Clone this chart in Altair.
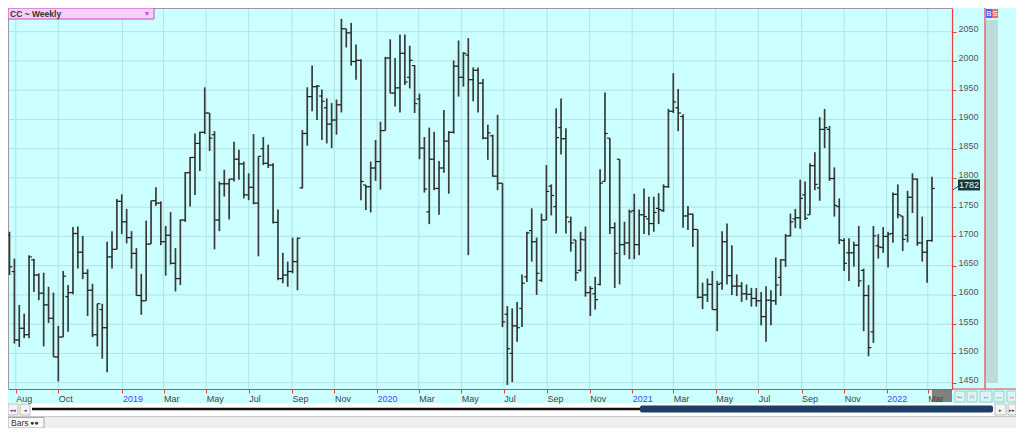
import altair as alt
import pandas as pd

# ---- data (weekly OHLC, CC ~ Weekly) ----
first_week = "2018-07-23"
n_weeks = 190
opens = [
    1702, 1640, 1523, 1543, 1532, 1660, 1634, 1603, 1583, 1560,
    1494, 1528, 1597, 1604, 1705, 1673, 1637, 1608, 1532, 1575,
    1544, 1665, 1678, 1760, 1725, 1698, 1671, 1599, 1590, 1687,
    1761, 1757, 1691, 1702, 1654, 1628, 1728, 1809, 1835, 1859,
    1878, 1911, 1874, 1728, 1790, 1790, 1798, 1832, 1824, 1771,
    1784, 1757, 1850, 1825, 1822, 1724, 1628, 1634, 1640, 1657,
    1783, 1876, 1939, 1956, 1940, 1920, 1892, 1899, 1925, 2055,
    2048, 1999, 2001, 1788, 1785, 1817, 1828, 1881, 2005, 1945,
    1954, 2013, 1972, 1992, 1935, 1851, 1742, 1832, 1782, 1817,
    1863, 1878, 1991, 1972, 2010, 1968, 1984, 1962, 1868, 1872,
    1803, 1791, 1567, 1500, 1547, 1577, 1631, 1710, 1691, 1625,
    1728, 1786, 1751, 1886, 1867, 1725, 1694, 1642, 1694, 1604,
    1602, 1618, 1794, 1868, 1715, 1832, 1686, 1689, 1744, 1686,
    1737, 1730, 1722, 1748, 1744, 1785, 1914, 1920, 1905, 1735,
    1738, 1712, 1596, 1600, 1618, 1575, 1620, 1691, 1633, 1615,
    1615, 1602, 1601, 1594, 1590, 1563, 1591, 1590, 1630, 1660,
    1701, 1730, 1732, 1771, 1737, 1821, 1783, 1883, 1883, 1799,
    1751, 1693, 1672, 1672, 1685, 1642, 1599, 1537, 1684, 1681,
    1700, 1705, 1772, 1735, 1702, 1767, 1798, 1689, 1673, 1693,
]
highs = [
    1708, 1662, 1583, 1568, 1668, 1662, 1637, 1638, 1614, 1604,
    1547, 1641, 1617, 1716, 1717, 1701, 1644, 1619, 1585, 1585,
    1691, 1709, 1764, 1772, 1747, 1709, 1680, 1636, 1727, 1761,
    1784, 1760, 1718, 1742, 1680, 1729, 1810, 1836, 1876, 1879,
    1955, 1911, 1880, 1794, 1814, 1798, 1862, 1848, 1828, 1808,
    1875, 1837, 1870, 1857, 1825, 1746, 1672, 1657, 1698, 1698,
    1882, 1955, 1992, 1959, 1951, 1936, 1928, 1934, 2072, 2055,
    2065, 2028, 2003, 1788, 1828, 1865, 1896, 2007, 2037, 2005,
    2045, 2045, 2026, 1993, 1944, 1870, 1886, 1879, 1829, 1916,
    1880, 2001, 2035, 2015, 2039, 1989, 1989, 1969, 1891, 1874,
    1908, 1791, 1581, 1577, 1588, 1635, 1708, 1748, 1698, 1739,
    1822, 1789, 1919, 1936, 1885, 1734, 1694, 1708, 1717, 1615,
    1631, 1815, 1946, 1868, 1724, 1832, 1725, 1746, 1773, 1746,
    1782, 1768, 1768, 1774, 1789, 1918, 1979, 1952, 1909, 1752,
    1739, 1712, 1621, 1628, 1641, 1624, 1709, 1722, 1685, 1635,
    1622, 1618, 1612, 1612, 1605, 1615, 1608, 1664, 1661, 1704,
    1739, 1747, 1797, 1794, 1825, 1844, 1904, 1918, 1889, 1818,
    1765, 1697, 1697, 1691, 1718, 1645, 1617, 1718, 1704, 1716,
    1708, 1775, 1789, 1735, 1778, 1808, 1799, 1734, 1694, 1802,
]
lows = [
    1634, 1517, 1511, 1526, 1526, 1605, 1591, 1512, 1552, 1494,
    1452, 1528, 1537, 1601, 1645, 1627, 1564, 1528, 1512, 1491,
    1468, 1645, 1678, 1704, 1688, 1645, 1599, 1566, 1590, 1687,
    1752, 1685, 1633, 1652, 1606, 1617, 1725, 1751, 1771, 1812,
    1875, 1846, 1678, 1709, 1768, 1729, 1794, 1797, 1765, 1762,
    1755, 1666, 1822, 1817, 1722, 1625, 1620, 1614, 1637, 1608,
    1782, 1855, 1914, 1899, 1865, 1859, 1851, 1874, 1912, 2023,
    1992, 1968, 1762, 1745, 1741, 1795, 1780, 1881, 1945, 1922,
    1912, 1959, 1953, 1911, 1832, 1775, 1721, 1779, 1737, 1809,
    1773, 1876, 1939, 1956, 1668, 1931, 1912, 1866, 1831, 1802,
    1779, 1545, 1446, 1451, 1520, 1545, 1622, 1657, 1600, 1622,
    1728, 1736, 1705, 1840, 1705, 1674, 1624, 1640, 1597, 1564,
    1575, 1616, 1794, 1704, 1612, 1618, 1668, 1661, 1661, 1668,
    1704, 1702, 1708, 1721, 1742, 1783, 1911, 1880, 1715, 1711,
    1682, 1594, 1576, 1588, 1575, 1538, 1609, 1618, 1600, 1598,
    1588, 1591, 1580, 1580, 1548, 1520, 1548, 1583, 1598, 1648,
    1700, 1714, 1713, 1728, 1737, 1779, 1761, 1851, 1795, 1734,
    1687, 1641, 1624, 1648, 1614, 1538, 1495, 1518, 1662, 1672,
    1647, 1689, 1731, 1675, 1690, 1740, 1684, 1657, 1621, 1691,
]
closes = [
    1648, 1523, 1543, 1532, 1665, 1634, 1603, 1583, 1560, 1494,
    1528, 1632, 1604, 1705, 1673, 1637, 1608, 1532, 1585, 1544,
    1665, 1678, 1760, 1725, 1698, 1671, 1599, 1590, 1687, 1761,
    1757, 1691, 1702, 1654, 1628, 1728, 1809, 1835, 1859, 1878,
    1911, 1868, 1728, 1790, 1790, 1798, 1832, 1824, 1771, 1784,
    1757, 1837, 1825, 1822, 1724, 1628, 1634, 1640, 1657, 1697,
    1876, 1939, 1956, 1957, 1931, 1892, 1899, 1925, 2055, 2048,
    1999, 2001, 1794, 1785, 1817, 1828, 1881, 2005, 1945, 1954,
    2013, 1964, 2001, 1927, 1851, 1781, 1832, 1782, 1817, 1863,
    1878, 1991, 1972, 2013, 1968, 1984, 1962, 1868, 1877, 1803,
    1791, 1554, 1508, 1547, 1544, 1620, 1706, 1691, 1637, 1728,
    1777, 1770, 1869, 1867, 1733, 1689, 1638, 1695, 1604, 1611,
    1592, 1791, 1876, 1715, 1671, 1686, 1689, 1742, 1686, 1737,
    1734, 1722, 1741, 1746, 1785, 1914, 1930, 1911, 1735, 1738,
    1712, 1596, 1600, 1618, 1575, 1618, 1691, 1633, 1615, 1615,
    1602, 1601, 1594, 1590, 1563, 1591, 1590, 1617, 1660, 1701,
    1725, 1732, 1765, 1731, 1821, 1789, 1883, 1886, 1799, 1753,
    1694, 1654, 1672, 1685, 1624, 1599, 1510, 1701, 1682, 1700,
    1704, 1772, 1737, 1695, 1767, 1798, 1689, 1673, 1693, 1782,
]
last_price = [1782]
y_ticks = [1450, 1500, 1550, 1600, 1650, 1700, 1750, 1800, 1850, 1900, 1950, 2000, 2050]
x_ticks = [
    "2018-08-01", "2018-10-01",
    "2019-01-01", "2019-03-01", "2019-05-01", "2019-07-01", "2019-09-01", "2019-11-01",
    "2020-01-01", "2020-03-01", "2020-05-01", "2020-07-01", "2020-09-01", "2020-11-01",
    "2021-01-01", "2021-03-01", "2021-05-01", "2021-07-01", "2021-09-01", "2021-11-01",
    "2022-01-01", "2022-03-01",
]

df = pd.DataFrame({
    "week": pd.date_range(first_week, periods=n_weeks, freq="7D"),
    "open": opens, "high": highs, "low": lows, "close": closes,
})
lp = pd.DataFrame({"v": last_price})
xt = pd.DataFrame({"t": pd.to_datetime(x_ticks)})
yt = pd.DataFrame({"p": y_ticks})
one = pd.DataFrame({"k": [0]})

# ---- styles ----
RED = "#e8413c"
GRID = "#b0e4e4"
BAR = "#3a3a3a"
FONT = "Liberation Sans"

xscale = alt.Scale(domain=[alt.DateTime(year=2018, month=7, date=20, hours=20),
                           alt.DateTime(year=2022, month=4, date=4, hours=17)])
yscale = alt.Scale(domain=[1439.2, 2090.5], zero=False, nice=False)

xaxis = alt.Axis(
    values=[alt.DateTime(year=int(s[:4]), month=int(s[5:7]), date=1) for s in x_ticks],
    labelExpr="month(datum.value)==0 ? timeFormat(datum.value, '%Y') : timeFormat(datum.value, '%b')",
    labelAlign="left", labelBaseline="top", labelPadding=1,
    labelFont=FONT, labelFontSize=9,
    labelColor={"condition": {"test": "month(datum.value)==0", "value": "#4646ff"}, "value": "#444444"},
    labelOverlap=False, labelFlush=False,
    tickSize=4, tickColor=RED, domainColor=RED, domainWidth=1.2,
    grid=False, title=None, zindex=1,
)
yaxis = alt.Axis(
    orient="right", values=y_ticks, format="d", tickSize=4, tickColor=RED,
    domainColor=RED, domainWidth=1.2, labelFont=FONT, labelFontSize=9,
    labelColor="#555555", labelPadding=2, labelBaseline="alphabetic",
    grid=False, title=None, zindex=1,
)

X = alt.X("week:T", scale=xscale, axis=xaxis)


def rect(x1, x2, y1, y2, fill, stroke=None, sw=1, **kw):
    props = dict(fill=fill, **kw)
    if stroke:
        props.update(stroke=stroke, strokeWidth=sw)
    return alt.Chart(one).mark_rect(**props).encode(
        x=alt.value(x1), x2=alt.value(x2), y=alt.value(y1), y2=alt.value(y2))


def line(x1, x2, y1, y2, color, w=1):
    return alt.Chart(one).mark_rule(color=color, strokeWidth=w).encode(
        x=alt.value(x1), x2=alt.value(x2), y=alt.value(y1), y2=alt.value(y2))


def text(x, y, s, size, color, align="left", **kw):
    return alt.Chart(one).mark_text(text=s, fontSize=size, color=color, align=align,
                                    baseline="middle", font=FONT, **kw).encode(
        x=alt.value(x), y=alt.value(y))


# ---- grid (behind everything) ----
xgrid = alt.Chart(xt).mark_rule(color=GRID, strokeWidth=1).encode(
    x=alt.X("t:T", scale=xscale, axis=xaxis))
ygrid = alt.Chart(yt).mark_rule(color=GRID, strokeWidth=1).encode(
    y=alt.Y("p:Q", scale=yscale, axis=yaxis))

# ---- OHLC ----
hl = alt.Chart(df).mark_rule(color=BAR, strokeWidth=1.7).encode(
    x=X, y=alt.Y("low:Q", scale=yscale, axis=yaxis), y2="high:Q")
op = alt.Chart(df).mark_rule(color="#222222", strokeWidth=1.2, xOffset=-2.8).encode(
    x=X, x2="week:T", y=alt.Y("open:Q", scale=yscale, axis=yaxis))
cl = alt.Chart(df).mark_rule(color="#222222", strokeWidth=1.2, x2Offset=2.8).encode(
    x=X, x2="week:T", y=alt.Y("close:Q", scale=yscale, axis=yaxis))

# last price tag
lp_box = alt.Chart(lp).mark_rect(fill="#173a3a", yOffset=-9, y2Offset=2).encode(
    x=alt.value(950), x2=alt.value(972),
    y=alt.Y("v:Q", scale=yscale, axis=yaxis), y2="v:Q")
lp_txt = alt.Chart(lp).mark_text(color="#e6ffff", fontSize=9, font=FONT, align="center",
                                 baseline="middle", yOffset=-3.5).encode(
    x=alt.value(961), y=alt.Y("v:Q", scale=yscale, axis=yaxis), text="v:Q")
lp_ln = alt.Chart(lp).mark_rule(color="#2a4a4a", strokeWidth=1, yOffset=2, y2Offset=-2).encode(
    x=alt.value(944), x2=alt.value(950),
    y=alt.Y("v:Q", scale=yscale, axis=yaxis), y2="v:Q")

layers = [
    xgrid, ygrid,
    # right side panel
    rect(978, 990, 12, 375, "#bcdcdc"),
    rect(978, 984, 1, 10, "#5a5aff"),
    rect(984, 990, 1, 10, "#f06a6a"),
    text(981, 5.5, "B", 7.5, "#ffffff", align="center"),
    text(987, 5.5, "S", 7.5, "#ffffff", align="center"),
    line(977, 977, 0, 381, RED, 1.2),
    line(944, 1008, 381, 381, RED, 1.2),
    line(0, 944, 0.5, 0.5, "#9a9a9a", 1),
    line(0.5, 0.5, 0, 381, "#9a9a9a", 1),
    hl, op, cl,
    lp_ln, lp_box, lp_txt,
    # title box
    rect(0, 146, 0, 11, "#f4cff6", "#cc44cc", 1),
    text(2, 5.8, "CC ~ Weekly", 8.5, "#333333", fontWeight="bold"),
    text(139, 5.5, "▼", 6.5, "#d23cd2", align="center"),
    # current-period marker under the axis
    rect(924, 944, 382, 394, "#808080"),
    # small buttons right of the axis
    rect(947, 957, 383, 394, "#def4f4", "#9ccccc"),
    rect(959, 969, 383, 394, "#def4f4", "#9ccccc"),
    rect(972, 984, 383, 394, "#def4f4", "#9ccccc"),
    rect(986, 996, 383, 394, "#def4f4", "#9ccccc"),
    rect(999, 1008, 383, 394, "#def4f4", "#9ccccc"),
    text(952, 388.5, "⌙", 7, "#e03030", align="center"),
    text(964, 388.5, "∩", 7, "#3050e0", align="center"),
    text(978, 388.5, "↔", 7, "#3050e0", align="center"),
    text(991, 388.5, "↔", 7, "#20b040", align="center"),
    text(1004, 388.5, "↔", 7, "#e03030", align="center"),
    # scrollbar row
    rect(0, 1008, 395, 408, "#ffffff"),
    rect(0, 10, 396, 407, "#f4f4f4", "#bbbbbb"),
    rect(12, 22, 396, 407, "#f4f4f4", "#bbbbbb"),
    text(5, 401.5, "◂◂", 5, "#333333", align="center"),
    text(17, 401.5, "◂", 5, "#333333", align="center"),
    line(24, 632, 401, 401, "#111111", 2.5),
    rect(632, 985, 397.5, 404.5, "#1f3e66", cornerRadius=2),
    rect(987, 998, 396, 407, "#f4f4f4", "#bbbbbb"),
    rect(1000, 1008, 396, 407, "#f4f4f4", "#bbbbbb"),
    text(992.5, 401.5, "▸", 5, "#333333", align="center"),
    text(1004, 401.5, "▸▸", 5, "#333333", align="center"),
    # bottom tab strip
    rect(0, 1008, 408, 420, "#efefef"),
    line(0, 1008, 408.5, 408.5, "#c8c8c8", 1),
    rect(0, 36, 409.5, 420, "#f9f9f9", "#a8a8a8"),
    text(3, 415, "Bars", 8.5, "#333333"),
    text(22, 415, "●●", 7, "#333333"),
]

chart = alt.layer(*layers).properties(
    width=944, height=381,
    autosize=alt.AutoSizeParams(type="none"),
    padding={"left": 0, "top": 0, "right": 64, "bottom": 39},
    background="#ccffff",
).configure_view(stroke=None)

chart.save("out.html", embed_options={"renderer": "svg", "actions": False})
